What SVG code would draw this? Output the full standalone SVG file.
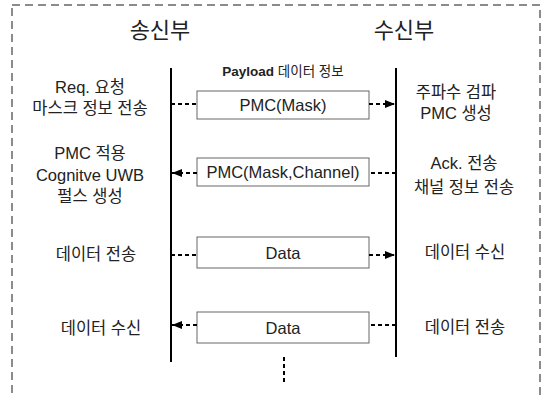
<svg xmlns="http://www.w3.org/2000/svg" width="542" height="395" viewBox="0 0 542 395">
<defs>
<style>
.t{font-family:"Liberation Sans","Noto Sans CJK KR",sans-serif;font-size:16.5px;fill:#222;text-anchor:middle}
.h{font-size:22px}
.box{fill:#fff;stroke:#666;stroke-width:1}
.life{stroke:#000;stroke-width:2}
.msg{stroke:#000;stroke-width:2;stroke-dasharray:4 3;fill:none}
</style>
<marker id="ah" viewBox="0 0 10 8" refX="10" refY="4" markerWidth="10" markerHeight="8" markerUnits="userSpaceOnUse" orient="auto">
<path d="M0,0 L10,4 L0,8 Z" fill="#000"/>
</marker>
</defs>
<rect x="12" y="5" width="528" height="420" fill="none" stroke="#666" stroke-width="1.5" stroke-dasharray="8 5"/>
<g id="sender">
<text class="t h" x="160" y="38">송신부</text>
<line class="life" x1="171" y1="68" x2="171" y2="362"/>
</g>
<g id="receiver">
<text class="t h" x="404" y="38">수신부</text>
<line class="life" x1="396" y1="68" x2="396" y2="357"/>
</g>
<text class="t" x="283" y="76" style="font-size:13.5px"><tspan font-weight="bold">Payload</tspan> 데이터 정보</text>
<g id="box1"><rect class="box" x="197" y="91" width="172" height="28"/><text class="t" x="283" y="111">PMC(Mask)</text></g>
<g id="box2"><rect class="box" x="197" y="158" width="172" height="28"/><text class="t" x="283" y="178">PMC(Mask,Channel)</text></g>
<g id="box3"><rect class="box" x="197" y="237" width="172" height="31"/><text class="t" x="283" y="259">Data</text></g>
<g id="box4"><rect class="box" x="197" y="312" width="172" height="31"/><text class="t" x="283" y="334">Data</text></g>
<g id="left-notes">
<text class="t" x="90" y="93">Req. 요청</text>
<text class="t" x="90" y="114">마스크 정보 전송</text>
<text class="t" x="90" y="159">PMC 적용</text>
<text class="t" x="90" y="181">Cognitve UWB</text>
<text class="t" x="90" y="202">펄스 생성</text>
<text class="t" x="96" y="260">데이터 전송</text>
<text class="t" x="101" y="334">데이터 수신</text>
</g>
<g id="right-notes">
<text class="t" x="456" y="98">주파수 검파</text>
<text class="t" x="456" y="119">PMC 생성</text>
<text class="t" x="464" y="169">Ack. 전송</text>
<text class="t" x="464" y="193">채널 정보 전송</text>
<text class="t" x="465" y="258">데이터 수신</text>
<text class="t" x="465" y="333">데이터 전송</text>
</g>
<g id="connectors">
<line class="msg" x1="171" y1="104" x2="197" y2="104"/>
<line class="msg" x1="369" y1="104" x2="395" y2="104" marker-end="url(#ah)"/>
<line class="msg" x1="396" y1="173" x2="369" y2="173"/>
<line class="msg" x1="197" y1="173" x2="172" y2="173" marker-end="url(#ah)"/>
<line class="msg" x1="171" y1="255" x2="197" y2="255"/>
<line class="msg" x1="369" y1="255" x2="395" y2="255" marker-end="url(#ah)"/>
<line class="msg" x1="396" y1="325" x2="369" y2="325"/>
<line class="msg" x1="197" y1="325" x2="172" y2="325" marker-end="url(#ah)"/>
<line class="msg" x1="284" y1="357" x2="284" y2="384" stroke-dasharray="3 3"/>
</g>
</svg>
